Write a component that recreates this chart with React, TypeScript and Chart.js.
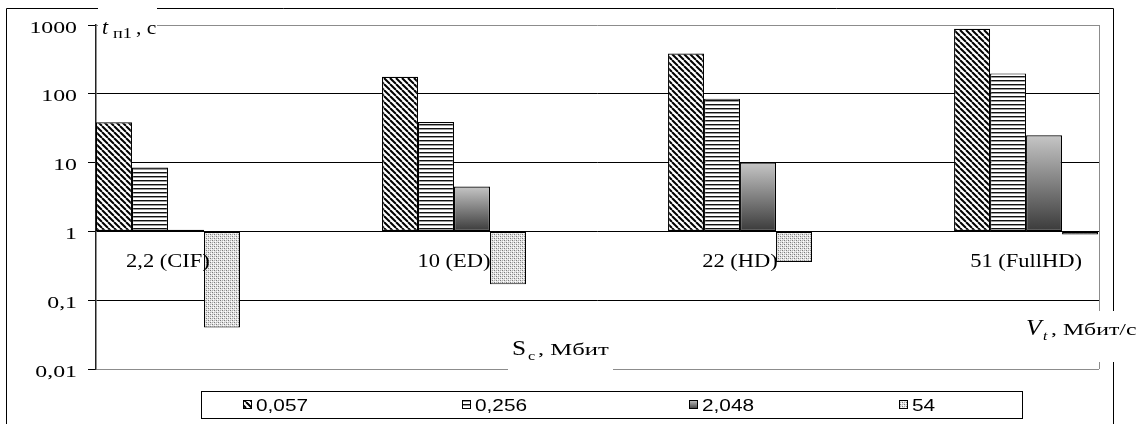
import React, { useEffect, useRef } from "react";
import { Chart, registerables } from "chart.js";

Chart.register(...registerables);

// ---- data ----
const categories = ["2,2 (CIF)", "10 (ED)", "22 (HD)", "51 (FullHD)"];
const seriesLabels = ["0,057", "0,256", "2,048", "54"];
const series0057 = [38.5, 177, 386, 884];
const series0256 = [8.5, 39, 85, 198];
const series2048 = [1.06, 4.5, 10, 25];
const series54 = [0.04, 0.17, 0.36, 0.9];
const yTickValues = [0.01, 0.1, 1, 10, 100, 1000];
const yTickLabels = ["0,01", "0,1", "1", "10", "100", "1000"];

const SERIF = "'Liberation Serif', 'Times New Roman', serif";
const SANS = "'Liberation Sans', Arial, sans-serif";

function tile(w: number, h: number, draw: (g: CanvasRenderingContext2D) => void) {
  const c = document.createElement("canvas");
  c.width = w;
  c.height = h;
  const g = c.getContext("2d")!;
  draw(g);
  return c;
}

function makePatterns(ctx: CanvasRenderingContext2D) {
  const diag = tile(6, 6, (g) => {
    g.fillStyle = "#fff";
    g.fillRect(0, 0, 6, 6);
    g.strokeStyle = "#000";
    g.lineWidth = 2;
    for (const o of [-6, 0, 6]) {
      g.beginPath();
      g.moveTo(o, 0);
      g.lineTo(o + 6, 6);
      g.stroke();
    }
  });
  const horiz = tile(4, 4, (g) => {
    g.fillStyle = "#fff";
    g.fillRect(0, 0, 4, 4);
    g.fillStyle = "#111";
    g.fillRect(0, 0, 4, 1);
    g.fillStyle = "#9a9a9a";
    g.fillRect(0, 1, 4, 1);
  });
  const dots = tile(4, 4, (g) => {
    g.fillStyle = "#e4e4e4";
    g.fillRect(0, 0, 4, 4);
    g.fillStyle = "#7a7a7a";
    g.fillRect(0, 0, 1, 1);
    g.fillRect(2, 2, 1, 1);
    g.fillStyle = "#ababab";
    g.fillRect(2, 0, 1, 1);
    g.fillRect(0, 2, 1, 1);
    g.fillStyle = "#fff";
    g.fillRect(1, 3, 1, 1);
    g.fillRect(3, 1, 1, 1);
  });
  return {
    diag: ctx.createPattern(diag, "repeat")!,
    horiz: ctx.createPattern(horiz, "repeat")!,
    dots: ctx.createPattern(dots, "repeat")!,
  };
}

function stretchText(
  ctx: CanvasRenderingContext2D,
  s: string,
  x: number,
  y: number,
  font: string,
  sx: number,
  align: "left" | "right" | "center" = "left"
) {
  ctx.save();
  ctx.font = font;
  const w = ctx.measureText(s).width * sx;
  const x0 = align === "right" ? x - w : align === "center" ? x - w / 2 : x;
  ctx.translate(x0, y);
  ctx.scale(sx, 1);
  ctx.textAlign = "left";
  ctx.textBaseline = "alphabetic";
  ctx.fillStyle = "#000";
  ctx.fillText(s, 0, 0);
  ctx.restore();
  return w;
}

export default function App() {
  const ref = useRef<HTMLCanvasElement | null>(null);

  useEffect(() => {
    document.body.style.margin = "0";
    const canvas = ref.current!;
    const c2d = canvas.getContext("2d")!;
    const pats = makePatterns(c2d);

    const gradFill = (ctx: any) => {
      const chart = ctx.chart;
      const ys = chart.scales && chart.scales.y;
      if (!ys || ctx.type !== "data" || !ctx.parsed) return "#888";
      const v = ctx.parsed.y;
      const top = ys.getPixelForValue(Math.max(v, 1));
      const bot = ys.getPixelForValue(Math.min(v, 1));
      if (!isFinite(top) || !isFinite(bot)) return "#888";
      const g = chart.ctx.createLinearGradient(0, top, 0, Math.max(bot, top + 1));
      g.addColorStop(0, "#c6c6c6");
      g.addColorStop(1, "#3a3a3a");
      return g;
    };

    const fills: any[] = [pats.diag, pats.horiz, gradFill, pats.dots];
    const allSeries = [series0057, series0256, series2048, series54];

    const datasets = allSeries.map((arr, k) => ({
      label: seriesLabels[k],
      data: arr.map((v, i) => ({ x: i, y: v })),
      backgroundColor: fills[k],
      borderColor: "#000",
      borderWidth: 1.2,
      borderSkipped: false as const,
      base: 1,
      categoryPercentage: 0.5035,
      barPercentage: 1,
    }));

    const overlay = {
      id: "overlay",
      afterDraw(chart: any) {
        const ctx: CanvasRenderingContext2D = chart.ctx;
        const ca = chart.chartArea;
        const ys = chart.scales.y;
        const xs = chart.scales.x;
        ctx.save();
        // outer frame
        ctx.strokeStyle = "#000";
        ctx.lineWidth = 1;
        ctx.beginPath();
        ctx.moveTo(6.5, 424);
        ctx.lineTo(6.5, 8.5);
        ctx.lineTo(1113.5, 8.5);
        ctx.lineTo(1113.5, 424);
        ctx.stroke();
        // plot right border
        ctx.strokeStyle = "#8c8c8c";
        ctx.beginPath();
        ctx.moveTo(Math.round(ca.right) + 0.5, ca.top);
        ctx.lineTo(Math.round(ca.right) + 0.5, ca.bottom);
        ctx.stroke();

        // white boxes under axis titles
        ctx.fillStyle = "#fff";
        ctx.fillRect(98, 3, 59, 36);
        ctx.fillRect(508, 336, 105, 38);
        ctx.fillRect(1003, 311, 142, 51);

        // y title: t_п1 , с
        stretchText(ctx, "t", 102, 33.5, `italic 20px ${SERIF}`, 1.1);
        stretchText(ctx, "п1", 113, 37.5, `14px ${SERIF}`, 1.3);
        stretchText(ctx, ", с", 136, 33.5, `18px ${SERIF}`, 1.2);

        // x title: S_c , Мбит
        stretchText(ctx, "S", 512, 355, `22px ${SERIF}`, 1.15);
        stretchText(ctx, "c", 528, 359.5, `13px ${SERIF}`, 1.25);
        stretchText(ctx, ", Мбит", 538, 355, `17px ${SERIF}`, 1.45);

        // series title: V_t , Мбит/с
        stretchText(ctx, "V", 1026, 335, `italic 23px ${SERIF}`, 1.1);
        stretchText(ctx, "t", 1043, 339.5, `italic 13px ${SERIF}`, 1.2);
        stretchText(ctx, ", Мбит/с", 1051, 335, `17px ${SERIF}`, 1.4);

        // y tick labels
        yTickValues.forEach((v, i) => {
          const py = ys.getPixelForValue(v);
          stretchText(ctx, yTickLabels[i], 77, py + 7.5, `17px ${SERIF}`, 1.4, "right");
        });

        // category labels
        const y1 = ys.getPixelForValue(1);
        categories.forEach((c, i) => {
          stretchText(ctx, c, xs.getPixelForValue(i), y1 + 36, `18px ${SERIF}`, 1.25, "center");
        });

        // legend
        ctx.fillStyle = "#fff";
        ctx.fillRect(201, 391, 821, 28);
        ctx.strokeStyle = "#000";
        ctx.lineWidth = 1;
        ctx.strokeRect(201.5, 391.5, 821, 27);
        const markerX = [243, 462, 689, 899];
        seriesLabels.forEach((lab, k) => {
          const mx = markerX[k];
          const my = 400;
          let f: any = fills[k];
          if (k === 2) {
            const g = ctx.createLinearGradient(0, my, 0, my + 9);
            g.addColorStop(0, "#c6c6c6");
            g.addColorStop(1, "#3a3a3a");
            f = g;
          }
          ctx.fillStyle = f;
          ctx.fillRect(mx, my, 9, 9);
          ctx.strokeStyle = "#000";
          ctx.strokeRect(mx + 0.5, my + 0.5, 8, 8);
          stretchText(ctx, lab, mx + 13, 411, `16px ${SANS}`, 1.3);
        });
        ctx.restore();
      },
    };

    const chart = new Chart(canvas, {
      type: "bar",
      data: { datasets },
      options: {
        animation: false,
        responsive: false,
        devicePixelRatio: 1,
        events: [],
        layout: { padding: { top: 25, right: 46, bottom: 55, left: 0 } },
        plugins: {
          legend: { display: false },
          tooltip: { enabled: false },
          title: { display: false },
        },
        scales: {
          x: {
            type: "linear",
            min: -0.2517,
            max: 3.255,
            offset: false,
            display: false,
            afterBuildTicks: (s: any) => {
              s.ticks = categories.map((_, i) => ({ value: i }));
            },
            grid: { display: false },
          },
          y: {
            type: "logarithmic",
            min: 0.01,
            max: 1000,
            position: "left",
            afterBuildTicks: (s: any) => {
              s.ticks = yTickValues.map((v) => ({ value: v }));
            },
            afterFit: (s: any) => {
              s.width = 96;
            },
            ticks: { display: false },
            grid: {
              color: (c: any) =>
                c.tick && (c.tick.value === 1000 || c.tick.value === 0.01) ? "#8c8c8c" : "#000",
              lineWidth: 1,
              drawTicks: true,
              tickLength: 8,
              tickColor: "#000",
            },
            border: { display: true, color: "#222", width: 1.5 },
          },
        },
      },
      plugins: [overlay],
    });
    return () => chart.destroy();
  }, []);

  return (
    <div style={{ position: "absolute", left: 0, top: 0, width: 1145, height: 424, background: "#fff" }}>
      <canvas ref={ref} width={1145} height={424} style={{ display: "block" }} />
    </div>
  );
}
